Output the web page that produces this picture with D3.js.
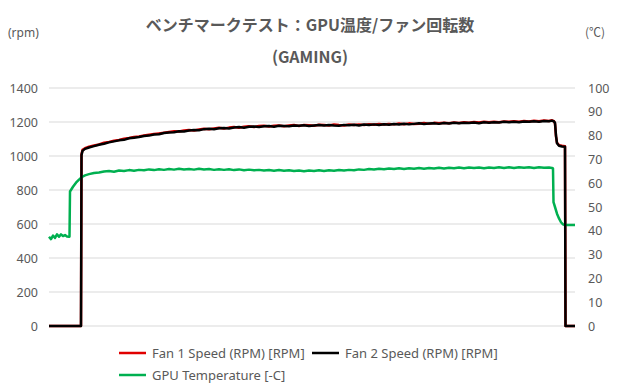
<!DOCTYPE html>
<html><head><meta charset="utf-8">
<script src="https://cdn.jsdelivr.net/npm/d3@7"></script>
<style>body{margin:0;background:#fff}svg{display:block}</style>
</head><body>
<script>
const titleLines = ["ベンチマークテスト：GPU温度/ファン回転数", "(GAMING)"];
const leftUnit = "(rpm)";
const rightUnit = "(℃)";
const leftTicks = [0,200,400,600,800,1000,1200,1400];
const rightTicks = [0,10,20,30,40,50,60,70,80,90,100];
const seriesNames = ["Fan 1 Speed (RPM) [RPM]", "Fan 2 Speed (RPM) [RPM]", "GPU Temperature [-C]"];
const seriesColors = ["#e00000", "#000000", "#00b050"];

// [time, rpm]
const fan2 = [[0,0],[32,0],[32.5,1005],[33.5,1030],[36,1042],[40,1050],[45,1058],[50,1066],[55,1072],[60,1080],[65,1086],[70,1092],[75,1095],[80,1104],[85,1108],[90,1112],[95,1118],[100,1120],[105,1126],[110,1128],[115,1135],[120,1138],[125,1140],[130,1146],[135,1144],[140,1150],[145,1153],[150,1152],[155,1158],[160,1160],[165,1157],[170,1163],[175,1165],[180,1162],[185,1168],[190,1170],[195,1166],[200,1172],[205,1174],[210,1170],[215,1175],[220,1176],[225,1172],[230,1178],[235,1177],[240,1175],[245,1180],[250,1178],[255,1181],[260,1176],[265,1180],[270,1182],[275,1179],[280,1183],[285,1180],[290,1178],[295,1183],[300,1181],[305,1184],[310,1180],[315,1185],[320,1182],[325,1186],[330,1183],[335,1187],[340,1184],[345,1188],[350,1185],[355,1190],[360,1186],[365,1189],[370,1192],[375,1188],[380,1191],[385,1193],[390,1189],[395,1194],[400,1191],[405,1195],[410,1192],[415,1196],[420,1194],[425,1197],[430,1193],[435,1198],[440,1196],[445,1199],[450,1197],[455,1201],[460,1198],[465,1202],[470,1199],[475,1203],[480,1201],[485,1205],[490,1202],[495,1206],[500,1204],[503,1208],[505,1203],[506,1195],[507,1120],[508,1075],[510,1060],[513,1056],[516,1055],[516.5,0],[526,0]];
const fan1 = [[0,0],[32,0],[32.5,1010],[33.5,1036],[36,1046],[40,1055],[45,1062],[50,1068],[55,1078],[60,1083],[65,1090],[70,1094],[75,1101],[80,1106],[85,1112],[90,1115],[95,1120],[100,1125],[105,1129],[110,1133],[115,1137],[120,1141],[125,1145],[130,1144],[135,1150],[140,1153],[145,1150],[150,1156],[155,1160],[160,1157],[165,1162],[170,1166],[175,1162],[180,1167],[185,1171],[190,1166],[195,1172],[200,1175],[205,1170],[210,1176],[215,1178],[220,1173],[225,1178],[230,1180],[235,1175],[240,1180],[245,1183],[250,1177],[255,1183],[260,1181],[265,1178],[270,1184],[275,1182],[280,1179],[285,1185],[290,1182],[295,1180],[300,1185],[305,1182],[310,1186],[315,1183],[320,1187],[325,1184],[330,1188],[335,1185],[340,1189],[345,1186],[350,1191],[355,1187],[360,1192],[365,1188],[370,1190],[375,1194],[380,1189],[385,1195],[390,1192],[395,1196],[400,1193],[405,1197],[410,1194],[415,1198],[420,1195],[425,1200],[430,1197],[435,1201],[440,1198],[445,1202],[450,1199],[455,1203],[460,1201],[465,1205],[470,1202],[475,1206],[480,1203],[485,1207],[490,1204],[495,1209],[500,1206],[503,1210],[505,1205],[506,1190],[507,1115],[508,1078],[510,1064],[513,1060],[516,1058],[516.5,0],[526,0]];
// [time, °C]
const gpuTemp = [[0,37.5],[2,36.5],[4,38],[6,37],[8,38.5],[10,37.5],[12,38.5],[14,37.8],[16,38.2],[18,37.6],[20,37.5],[20.5,37.6],[21,56.5],[24,58.5],[27,60.2],[30,61.5],[33,62.6],[36,63.3],[40,63.8],[45,64.3],[50,64.5],[55,64.9],[60,65.1],[65,64.8],[70,65.3],[75,65.1],[80,65.5],[85,65.2],[90,65.6],[95,65.4],[100,65.8],[105,65.5],[110,65.9],[115,65.6],[120,66],[125,65.7],[130,66.1],[135,65.8],[140,66],[145,65.7],[150,66.1],[155,65.8],[160,66],[165,65.6],[170,65.9],[175,65.6],[180,65.9],[185,65.5],[190,65.8],[195,65.4],[200,65.7],[205,65.4],[210,65.6],[215,65.3],[220,65.5],[225,65.2],[230,65.5],[235,65.2],[240,65.4],[245,65.1],[250,65.3],[255,65],[260,65.3],[265,65.1],[270,65.4],[275,65.1],[280,65.4],[285,65.2],[290,65.5],[295,65.3],[300,65.6],[305,65.4],[310,65.8],[315,65.6],[320,66],[325,65.8],[330,66.1],[335,65.9],[340,66.2],[345,66],[350,66.3],[355,66],[360,66.3],[365,66.1],[370,66.4],[375,66.1],[380,66.4],[385,66.2],[390,66.5],[395,66.2],[400,66.5],[405,66.3],[410,66.6],[415,66.3],[420,66.6],[425,66.4],[430,66.6],[435,66.3],[440,66.6],[445,66.4],[450,66.7],[455,66.4],[460,66.7],[465,66.4],[470,66.7],[475,66.5],[480,66.7],[485,66.4],[490,66.7],[495,66.5],[500,66.6],[503,66.4],[504,66.2],[504.5,52],[506,50],[508,47.2],[510,45.2],[512,43.6],[514,42.7],[516,42.4],[526,42.4]];

const W = 620, H = 390;
const m = {left:49, right:45, top:88, bottom:64};
const svg = d3.select("body").append("svg").attr("width", W).attr("height", H);
const font = "'Noto Sans', 'Noto Sans CJK JP', sans-serif";
const textColor = "#595959";

const x = d3.scaleLinear().domain([0, 526]).range([m.left, W - m.right]);
const yL = d3.scaleLinear().domain([0, 1400]).range([H - m.bottom, m.top]);
const yR = d3.scaleLinear().domain([0, 100]).range([H - m.bottom, m.top]);

// gridlines
svg.append("g").selectAll("line").data(leftTicks).join("line")
  .attr("x1", m.left).attr("x2", W - m.right)
  .attr("y1", d => yL(d)).attr("y2", d => yL(d))
  .attr("stroke", "#d9d9d9").attr("stroke-width", 1);

// left axis
const gL = svg.append("g").attr("transform", `translate(${m.left - 11},0)`)
  .call(d3.axisLeft(yL).tickValues(leftTicks).tickFormat(d3.format("d")).tickSize(0).tickPadding(0));
gL.select(".domain").remove();
gL.selectAll("text").attr("fill", textColor).style("font-family", font).style("font-size", "12.5px");

const gR = svg.append("g").attr("transform", `translate(${W - m.right + 13},0)`)
  .call(d3.axisRight(yR).tickValues(rightTicks).tickFormat(d3.format("d")).tickSize(0).tickPadding(0));
gR.select(".domain").remove();
gR.selectAll("text").attr("fill", textColor).style("font-family", font).style("font-size", "12.5px");

// lines
const lineL = d3.line().x(d => x(d[0])).y(d => yL(d[1]));
const lineR = d3.line().x(d => x(d[0])).y(d => yR(d[1]));
svg.append("path").datum(fan1).attr("d", lineL).attr("fill","none").attr("stroke", seriesColors[0]).attr("stroke-width", 2.5).attr("stroke-linejoin","round");
svg.append("path").datum(gpuTemp).attr("d", lineR).attr("fill","none").attr("stroke", seriesColors[2]).attr("stroke-width", 2.5).attr("stroke-linejoin","round");
svg.append("path").datum(fan2).attr("d", lineL).attr("fill","none").attr("stroke", seriesColors[1]).attr("stroke-width", 2.5).attr("stroke-linejoin","round");

// titles
svg.append("text").attr("x", 310).attr("y", 31).attr("text-anchor","middle")
  .attr("fill", textColor).style("font-family", "'Noto Sans CJK JP', sans-serif").style("font-weight","bold").style("font-size","16px").text(titleLines[0]);
svg.append("text").attr("x", 310).attr("y", 63).attr("text-anchor","middle")
  .attr("fill", textColor).style("font-family", "'Noto Sans CJK JP', sans-serif").style("font-weight","bold").style("font-size","16px").text(titleLines[1]);
svg.append("text").attr("x", 8).attr("y", 37).attr("fill", textColor).style("font-family", font).style("font-size","12px").text(leftUnit);
svg.append("text").attr("x", 585).attr("y", 37).attr("fill", textColor).style("font-family", "'Noto Sans CJK JP', sans-serif").style("font-size","12px").text(rightUnit);

// legend
const legendItems = [
  {name: seriesNames[0], color: seriesColors[0], lx: 119, ly: 353},
  {name: seriesNames[1], color: seriesColors[1], lx: 312, ly: 353},
  {name: seriesNames[2], color: seriesColors[2], lx: 119, ly: 375}
];
const lg = svg.append("g").selectAll("g").data(legendItems).join("g");
lg.append("line").attr("x1", d => d.lx).attr("x2", d => d.lx + 27).attr("y1", d => d.ly).attr("y2", d => d.ly)
  .attr("stroke", d => d.color).attr("stroke-width", 2.5);
lg.append("text").attr("x", d => d.lx + 33).attr("y", d => d.ly).attr("dy", "0.35em")
  .attr("fill", textColor).style("font-family", font).style("font-size","13px").text(d => d.name);
</script>
</body></html>
